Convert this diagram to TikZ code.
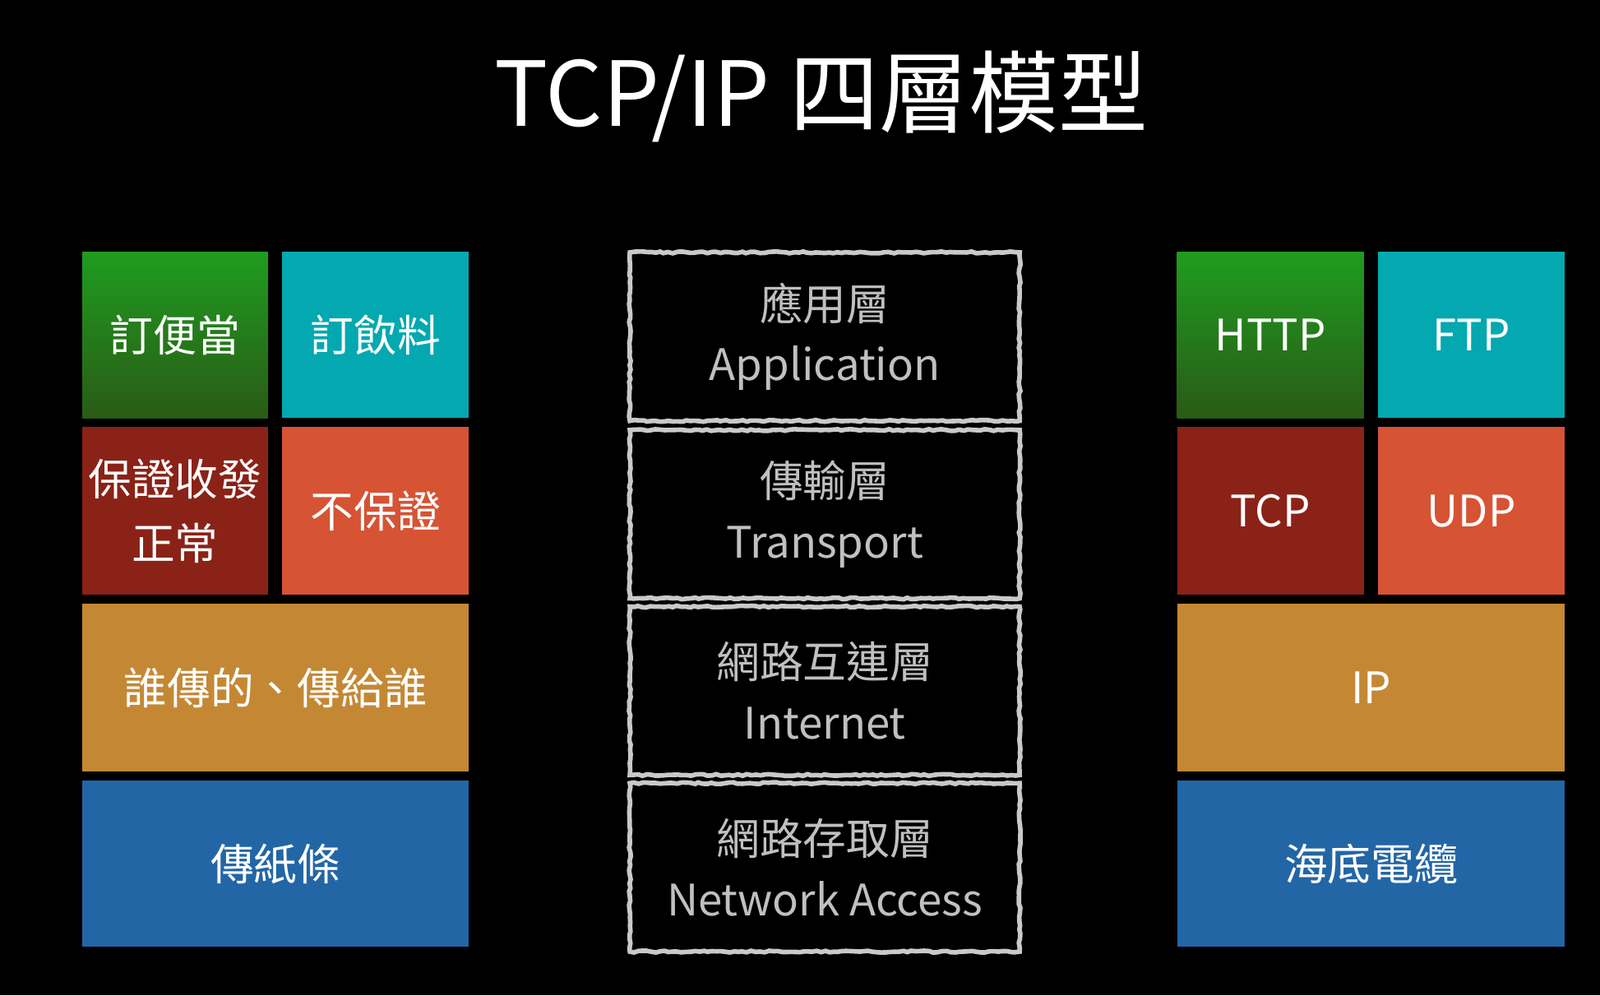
\documentclass[tikz,border=0pt]{standalone}
\usepackage{fontspec}
\setmainfont{Noto Sans CJK TC}
\usetikzlibrary{decorations.pathmorphing}
\newlength\uu \setlength\uu{0.01241cm}
\definecolor{cgreenT}{HTML}{1F9C1F}
\definecolor{cgreenB}{HTML}{2A5A16}
\definecolor{cteal}{HTML}{03A8B0}
\definecolor{cred}{HTML}{8A2217}
\definecolor{corange}{HTML}{D65334}
\definecolor{cochre}{HTML}{C48835}
\definecolor{cblue}{HTML}{2366A6}
\definecolor{cmid}{HTML}{C0C0C0}
\begin{document}
\begin{tikzpicture}[x=\uu,y=-\uu,
  box/.style={anchor=north west,inner sep=0pt,text=white,font=\fontsize{15pt}{22pt}\selectfont,align=center},
  green/.style={box,top color=cgreenT,bottom color=cgreenB},
  mid/.style={anchor=north west,inner sep=0pt,text=cmid,font=\fontsize{15pt}{21pt}\selectfont,align=center,
    draw=cmid!85,line width=1.6pt,decorate,decoration={random steps,segment length=1.5pt,amplitude=0.3pt}},
  ]
\fill[black] (0,0) rectangle (1568,975);
\node[text=white,font=\fontsize{31pt}{34pt}\selectfont] (title) at (805,95) {TCP/IP 四層模型};
% left
\node[green,minimum width=182\uu,minimum height=163\uu] (l1) at (80,246) {訂便當};
\node[box,fill=cteal,minimum width=183\uu,minimum height=163\uu] (l2) at (276,246) {訂飲料};
\node[box,fill=cred,minimum width=182\uu,minimum height=164\uu] (l3) at (80,418) {保證收發\\正常};
\node[box,fill=corange,minimum width=183\uu,minimum height=164\uu] (l4) at (276,418) {不保證};
\node[box,fill=cochre,minimum width=379\uu,minimum height=164\uu] (l5) at (80,591) {誰傳的、傳給誰};
\node[box,fill=cblue,minimum width=379\uu,minimum height=163\uu] (l6) at (80,764) {傳紙條};
% middle
\node[mid,minimum width=382\uu,minimum height=165\uu] (m1) at (615,245) {應用層\\Application};
\node[mid,minimum width=382\uu,minimum height=165\uu] (m2) at (615,419) {傳輸層\\Transport};
\node[mid,minimum width=382\uu,minimum height=165\uu] (m3) at (615,592) {網路互連層\\Internet};
\node[mid,minimum width=382\uu,minimum height=165\uu] (m4) at (615,765) {網路存取層\\Network Access};
% right
\node[green,minimum width=183\uu,minimum height=163\uu] (r1) at (1153,246) {HTTP};
\node[box,fill=cteal,minimum width=183\uu,minimum height=163\uu] (r2) at (1350,246) {FTP};
\node[box,fill=cred,minimum width=183\uu,minimum height=164\uu] (r3) at (1153,418) {TCP};
\node[box,fill=corange,minimum width=183\uu,minimum height=164\uu] (r4) at (1350,418) {UDP};
\node[box,fill=cochre,minimum width=380\uu,minimum height=164\uu] (r5) at (1153,591) {IP};
\node[box,fill=cblue,minimum width=380\uu,minimum height=163\uu] (r6) at (1153,764) {海底電纜};
\end{tikzpicture}
\end{document}
